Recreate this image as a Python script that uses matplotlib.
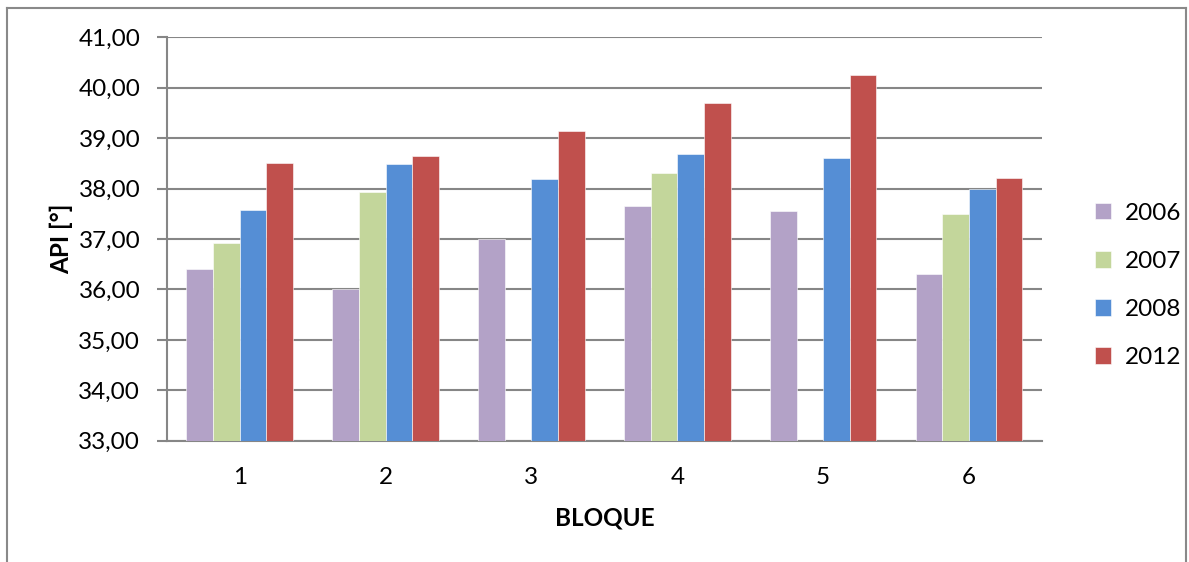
import numpy as np
import matplotlib.pyplot as plt
from matplotlib.lines import Line2D

plt.rcParams['font.family'] = ['Lato', 'DejaVu Sans']

bloques = ['1', '2', '3', '4', '5', '6']
years = ['2006', '2007', '2008', '2012']
api_2006 = [36.40, 36.00, 37.00, 37.65, 37.55, 36.30]
api_2007 = [36.93, 37.94, np.nan, 38.30, np.nan, 37.50]
api_2008 = [37.57, 38.48, 38.19, 38.69, 38.60, 38.00]
api_2012 = [38.50, 38.65, 39.15, 39.70, 40.25, 38.20]
colors = ['#B3A2C7', '#C3D69B', '#558ED5', '#C0504D']

series = [api_2006, api_2007, api_2008, api_2012]

fig = plt.figure(figsize=(11.89, 5.62), dpi=100)
ax = fig.add_axes([166.7 / 1189, 1 - 440.7 / 562, (1042 - 166.7) / 1189, (440.7 - 37.3) / 562])

x = np.arange(len(bloques))
w = 0.1825
for i, (vals, c, yr) in enumerate(zip(series, colors, years)):
    v = np.array(vals, dtype=float)
    ax.bar(x + (i - 1.5) * w, v - 33, w, bottom=33, color=c, label=yr,
           edgecolor='white', linewidth=0.4, zorder=3)

ax.set_xlim(-0.5, 5.5)
ax.set_ylim(33, 41)
yt = np.arange(33, 42, 1)
ax.set_yticks(yt)
ax.set_yticklabels([('%.2f' % t).replace('.', ',') for t in yt])
ax.set_xticks(x)
ax.set_xticklabels(bloques)

ax.grid(axis='y', color='#868686', linewidth=1.5, zorder=0)
for s in ['top', 'right']:
    ax.spines[s].set_visible(False)
for s in ['left', 'bottom']:
    ax.spines[s].set_color('#868686')
    ax.spines[s].set_linewidth(1.5)
ax.tick_params(axis='y', length=7, width=1.5, color='#868686', labelsize=17.5, pad=12)
ax.tick_params(axis='x', length=0, labelsize=17.5, pad=19)

ax.set_ylabel('API [°]', fontsize=17.5, fontweight='bold', labelpad=4)
ax.set_xlabel('BLOQUE', fontsize=17.5, fontweight='bold', labelpad=13)

leg = ax.legend(loc='center left', bbox_to_anchor=(1.035, 0.385), frameon=False,
                fontsize=17.5, handlelength=0.68, handleheight=0.68,
                labelspacing=1.12, handletextpad=0.55)

# outer chart border (open at the bottom)
for xs, ys in [([7 / 1189, 7 / 1189], [0, 1 - 8 / 562]),
               ([7 / 1189, 1186 / 1189], [1 - 8 / 562, 1 - 8 / 562]),
               ([1186 / 1189, 1186 / 1189], [1 - 8 / 562, 0])]:
    fig.add_artist(Line2D(xs, ys, color='#898989', linewidth=1.5))

fig.savefig('out.png', dpi=100)
